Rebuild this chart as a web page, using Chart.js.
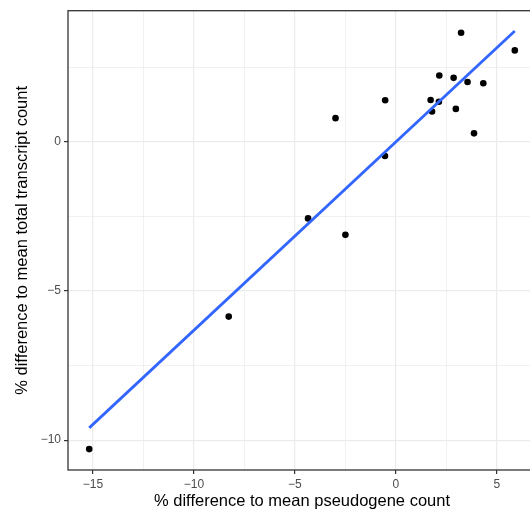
<!DOCTYPE html>
<html>
<head>
<meta charset="utf-8">
<script src="https://cdn.jsdelivr.net/npm/chart.js@4.4.0/dist/chart.umd.min.js"></script>
<style>
  body { margin: 0; overflow: hidden; background: #fff; }
</style>
</head>
<body>
<canvas id="scatterCanvas" width="540" height="513"></canvas>
<script>
// % difference to mean pseudogene count (x) vs total transcript count (y)
const pseudogeneDiff = [3.23, 5.89, 2.15, 2.86, 3.55, 4.33, -0.53, 1.72, 2.13, 1.79, 2.97, -2.99, 3.87, -0.54, -4.35, -2.50, -8.28, -15.19];
const transcriptDiff = [3.65, 3.06, 2.22, 2.14, 2.00, 1.96, 1.39, 1.40, 1.34, 1.01, 1.10, 0.79, 0.28, -0.48, -2.57, -3.12, -5.86, -10.30];

const xMajorTicks = [-15, -10, -5, 0, 5];
const xMinorTicks = [-12.5, -7.5, -2.5, 2.5];
const yMajorTicks = [-10, -5, 0];
const yMinorTicks = [-7.5, -2.5, 2.5];

const points = pseudogeneDiff.map((x, i) => ({ x: x, y: transcriptDiff[i] }));

// least squares fit for the trend line
const n = points.length;
const mx = pseudogeneDiff.reduce((a, b) => a + b, 0) / n;
const my = transcriptDiff.reduce((a, b) => a + b, 0) / n;
let sxy = 0, sxx = 0;
points.forEach(p => { sxy += (p.x - mx) * (p.y - my); sxx += (p.x - mx) * (p.x - mx); });
const slope = sxy / sxx;
const intercept = my - slope * mx;
const xLo = Math.min(...pseudogeneDiff);
const xHi = Math.max(...pseudogeneDiff);
const fitLine = [
  { x: xLo, y: intercept + slope * xLo },
  { x: xHi, y: intercept + slope * xHi }
];

const minus = v => String(v).replace('-', '\u2212');

const panelBorder = {
  id: 'panelBorder',
  afterDraw: (chart) => {
    const { ctx, chartArea: a } = chart;
    ctx.save();
    ctx.strokeStyle = '#333333';
    ctx.lineWidth = 1.3;
    ctx.strokeRect(a.left, a.top, a.right - a.left, a.bottom - a.top);
    ctx.restore();
  }
};

function axisOpts(majors, minors, min, max) {
  return {
    type: 'linear',
    min: min,
    max: max,
    border: { display: false },
    afterBuildTicks: (scale) => {
      scale.ticks = majors.concat(minors).map(v => ({ value: v }));
    },
    grid: {
      color: '#EBEBEB',
      lineWidth: c => majors.includes(c.tick.value) ? 1.2 : 0.7,
      tickColor: c => majors.includes(c.tick.value) ? '#333333' : 'rgba(0,0,0,0)',
      tickLength: 4,
      drawTicks: true
    },
    ticks: {
      autoSkip: false,
      maxRotation: 0,
      color: '#4D4D4D',
      font: { family: 'Liberation Sans', size: 12 },
      padding: 3,
      callback: v => majors.includes(v) ? minus(v) : ''
    },
    title: {
      display: true,
      color: '#000000',
      font: { family: 'Liberation Sans', size: 16.5 }
    }
  };
}

const xOpts = axisOpts(xMajorTicks, xMinorTicks, -16.24, 6.94);
xOpts.title.text = '% difference to mean pseudogene count';
xOpts.title.padding = { top: 0, bottom: 2 };
xOpts.afterFit = (scale) => { scale.height = 43; };

const yOpts = axisOpts(yMajorTicks, yMinorTicks, -11.0, 4.39);
yOpts.title.text = '% difference to mean total transcript count';
yOpts.title.padding = { top: 13, bottom: 0 };
yOpts.afterFit = (scale) => { scale.width = 68; };

const ctx = document.getElementById('scatterCanvas').getContext('2d');
new Chart(ctx, {
  type: 'scatter',
  data: {
    datasets: [
      {
        type: 'line',
        data: fitLine,
        borderColor: '#3366FF',
        borderWidth: 2.8,
        pointRadius: 0,
        fill: false
      },
      {
        data: points,
        backgroundColor: '#000000',
        borderWidth: 0,
        pointRadius: 3.3
      }
    ]
  },
  options: {
    responsive: false,
    animation: false,
    devicePixelRatio: 1,
    layout: { padding: { top: 10.7, right: 1.4, left: 0, bottom: 0 } },
    plugins: { legend: { display: false }, tooltip: { enabled: false } },
    scales: { x: xOpts, y: yOpts }
  },
  plugins: [panelBorder]
});
</script>
</body>
</html>
